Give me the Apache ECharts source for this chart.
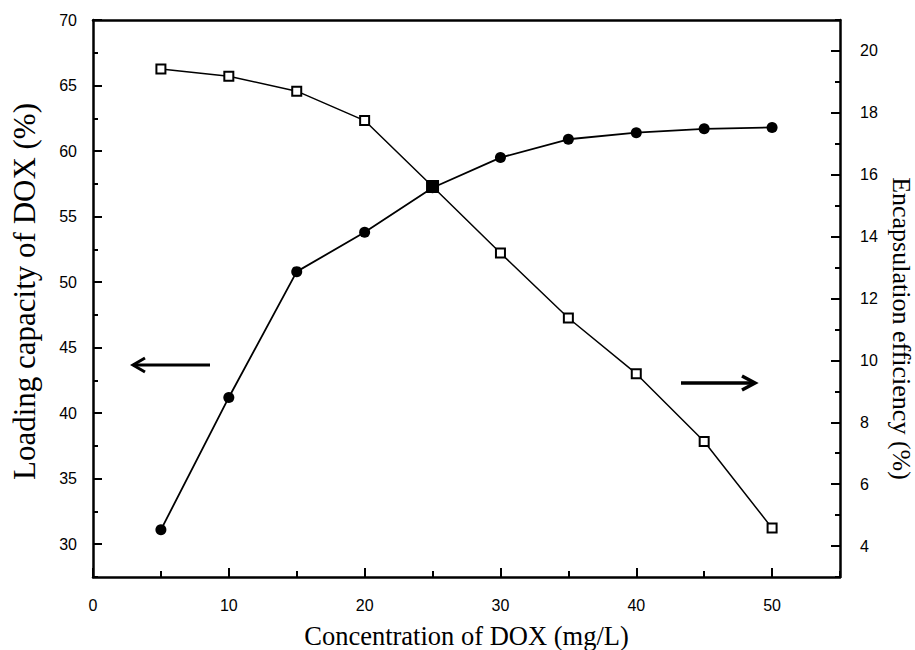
<!DOCTYPE html>
<html>
<head>
<meta charset="utf-8">
<script src="https://cdn.jsdelivr.net/npm/echarts@6/dist/echarts.min.js"></script>
<style>
html,body{margin:0;padding:0;background:#fff;}
#chart{width:915px;height:650px;}
</style>
</head>
<body>
<div id="chart"></div>
<script>
// ---- data ----
const concentration = [5, 10, 15, 20, 25, 30, 35, 40, 45, 50];
const loadingCapacity = [31.1, 41.2, 50.8, 53.8, 57.2, 59.5, 60.9, 61.4, 61.7, 61.8];
const encapsulationEfficiency = [19.42, 19.18, 18.7, 17.75, 15.62, 13.47, 11.37, 9.57, 7.38, 4.58];
const overlapConcentration = 25;

// ---- ticks ----
const xMajorTicks = [0, 10, 20, 30, 40, 50];
const xMinorTicks = [5, 15, 25, 35, 45, 55];
const leftMajorTicks = [30, 35, 40, 45, 50, 55, 60, 65, 70];
const leftMinorTicks = [27.5, 32.5, 37.5, 42.5, 47.5, 52.5, 57.5, 62.5, 67.5];
const rightMajorTicks = [4, 6, 8, 10, 12, 14, 16, 18, 20];
const rightMinorTicks = [3, 5, 7, 9, 11, 13, 15, 17, 19, 21];

const xRange = [0, 55];
const leftRange = [27.5, 70];
const rightRange = [3, 21];

const xTitle = 'Concentration of DOX (mg/L)';
const leftTitle = 'Loading capacity of DOX (%)';
const rightTitle = 'Encapsulation efficiency (%)';

const chart = echarts.init(document.getElementById('chart'), null, {renderer: 'svg'});

const black = '#000';
const labelFont = {color: black, fontFamily: 'Liberation Sans, Arial, sans-serif', fontSize: 16};
const nameFont = {color: black, fontFamily: 'Liberation Serif, Times New Roman, serif'};
const axisLine = {show: true, onZero: false, lineStyle: {color: black, width: 2.5}};
const tickInside = true;

function majorTick(ticks) {
  return {show: true, inside: tickInside, customValues: ticks, length: 9, lineStyle: {color: black, width: 2}};
}

function minorAxis(base, ticks, len) {
  return Object.assign({
    type: 'value', axisLine: {show: false, onZero: false},
    axisTick: {show: true, inside: tickInside, customValues: ticks, length: len, lineStyle: {color: black, width: 2}},
    axisLabel: {show: false}, splitLine: {show: false}
  }, base);
}

const circleData = concentration.map((x, i) => [x, loadingCapacity[i]]);
const squareData = concentration.map((x, i) => {
  const d = {value: [x, encapsulationEfficiency[i]]};
  if (x === overlapConcentration) {
    d.symbolSize = 11;
    d.itemStyle = {color: black, borderColor: black};
  }
  return d;
});

chart.setOption({
  animation: false,
  backgroundColor: '#fff',
  grid: {left: 93, right: 75, top: 20, bottom: 73, containLabel: false, outerBoundsMode: 'none'},
  xAxis: [
    {
      type: 'value', position: 'bottom', min: xRange[0], max: xRange[1],
      axisLine: axisLine,
      axisTick: majorTick(xMajorTicks),
      axisLabel: Object.assign({customValues: xMajorTicks, margin: 20}, labelFont),
      splitLine: {show: false},
      name: xTitle, nameLocation: 'middle', nameGap: 45,
      nameTextStyle: Object.assign({fontSize: 26.5}, nameFont)
    },
    minorAxis({position: 'bottom', min: xRange[0], max: xRange[1]}, xMinorTicks, 6),
    {
      type: 'value', position: 'top', min: xRange[0], max: xRange[1],
      axisLine: axisLine, axisTick: {show: false}, axisLabel: {show: false}, splitLine: {show: false}
    }
  ],
  yAxis: [
    {
      type: 'value', position: 'left', min: leftRange[0], max: leftRange[1],
      axisLine: axisLine,
      axisTick: majorTick(leftMajorTicks),
      axisLabel: Object.assign({customValues: leftMajorTicks, margin: 16}, labelFont),
      splitLine: {show: false},
      name: leftTitle, nameLocation: 'middle', nameGap: 53,
      nameTextStyle: Object.assign({fontSize: 31, padding: [0, 0, 0, 14]}, nameFont)
    },
    {
      type: 'value', position: 'right', min: rightRange[0], max: rightRange[1],
      axisLine: axisLine,
      axisTick: majorTick(rightMajorTicks),
      axisLabel: Object.assign({customValues: rightMajorTicks, margin: 20}, labelFont),
      splitLine: {show: false},
      name: rightTitle, nameLocation: 'middle', nameGap: 47, nameRotate: -90,
      nameTextStyle: Object.assign({fontSize: 26, padding: [0, 0, 0, 60]}, nameFont)
    },
    minorAxis({position: 'left', min: leftRange[0], max: leftRange[1]}, leftMinorTicks, 5),
    minorAxis({position: 'right', min: rightRange[0], max: rightRange[1]}, rightMinorTicks, 5)
  ],
  series: [
    {
      name: 'Loading capacity', type: 'line', xAxisIndex: 0, yAxisIndex: 0,
      data: circleData, symbol: 'circle', symbolSize: 11,
      lineStyle: {color: black, width: 1.8}, itemStyle: {color: black},
      z: 2
    },
    {
      name: 'Encapsulation efficiency', type: 'line', xAxisIndex: 0, yAxisIndex: 1,
      data: squareData, symbol: 'rect', symbolSize: 9,
      lineStyle: {color: black, width: 1.5},
      itemStyle: {color: '#fff', borderColor: black, borderWidth: 2},
      z: 3
    }
  ],
  graphic: [
    {type: 'line', shape: {x1: 210, y1: 365, x2: 133, y2: 365}, style: {stroke: black, lineWidth: 3}},
    {type: 'polyline', shape: {points: [[145, 358], [133, 365], [145, 372]]}, style: {stroke: black, lineWidth: 3, fill: null}},
    {type: 'line', shape: {x1: 681, y1: 383, x2: 754, y2: 383}, style: {stroke: black, lineWidth: 3.5}},
    {type: 'polyline', shape: {points: [[742, 376], [755, 383], [742, 390]]}, style: {stroke: black, lineWidth: 3.5, fill: null}}
  ]
});
</script>
</body>
</html>
